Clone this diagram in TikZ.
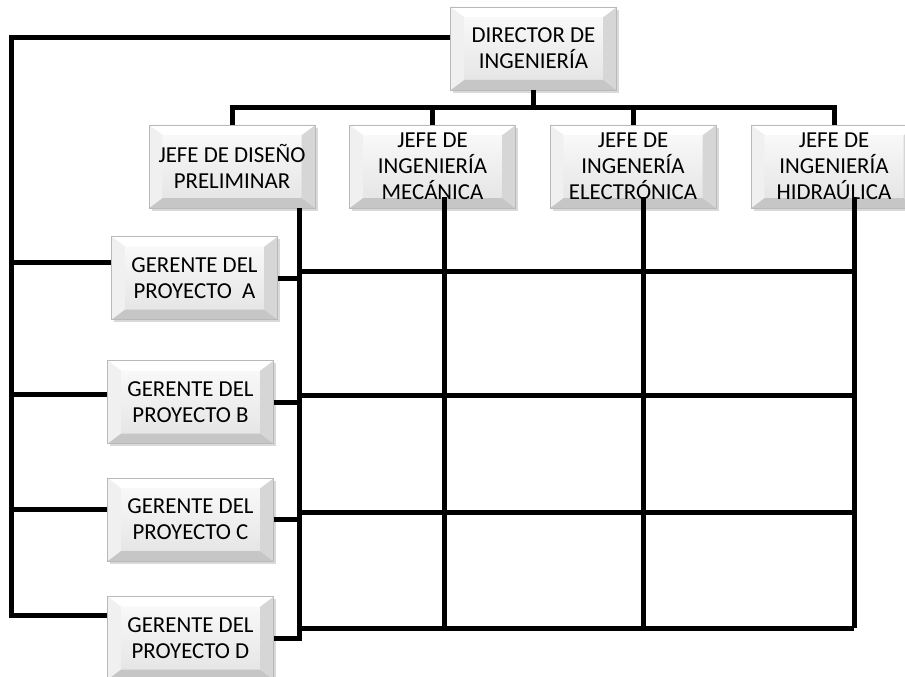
\documentclass[tikz,border=0pt]{standalone}
\usepackage{fontspec}
\setmainfont{Carlito}
\usetikzlibrary{shadows}
\tikzset{cargo/.style={draw=gray!55, top color=gray!3, bottom color=gray!22,
           minimum width=49.8mm, minimum height=24.9mm, inner sep=0pt, align=center,
           font=\fontsize{19.5}{22.4}\selectfont,
           drop shadow={shadow xshift=0.8mm, shadow yshift=-0.8mm, opacity=0.3, fill=gray},
           path picture={
             \coordinate(bsw)at(path picture bounding box.south west);
             \coordinate(bne)at(path picture bounding box.north east);
             \coordinate(bse)at(bsw-|bne);
             \coordinate(bnw)at(bne-|bsw);
             \coordinate(isw)at([shift={(4mm,3mm)}]bsw);
             \coordinate(ise)at([shift={(-4mm,3mm)}]bse);
             \coordinate(ine)at([shift={(-4mm,-3mm)}]bne);
             \coordinate(inw)at([shift={(4mm,-3mm)}]bnw);
             \fill[gray!45](bsw)--(bse)--(ise)--(isw)--cycle;
             \fill[gray!32](bse)--(bne)--(ine)--(ise)--cycle;
             \fill[white](bne)--(bnw)--(inw)--(ine)--cycle;
             \fill[gray!12](bnw)--(bsw)--(isw)--(inw)--cycle;
           }},
         enlace/.style={line width=1.5mm},
        }
\begin{document}
\begin{tikzpicture}[x=0.3mm,y=-0.3mm]
        \useasboundingbox(0,0)rectangle(905,677);
        \node[cargo](dir)at(533.5,48.5){DIRECTOR DE\\INGENIERÍA};
        \node[cargo](jdis)at(232,166.5){JEFE DE DISEÑO\\PRELIMINAR};
        \node[cargo](jmec)at(432.5,166.5){JEFE DE\\INGENIERÍA\\MECÁNICA};
        \node[cargo](jele)at(633,166.5){JEFE DE\\INGENERÍA\\ELECTRÓNICA};
        \node[cargo](jhid)at(834,166.5){JEFE DE\\INGENIERÍA\\HIDRAÚLICA};
        \node[cargo](ga)at(194.5,278){GERENTE DEL\\PROYECTO\ \ A};
        \node[cargo](gb)at(190.5,402){GERENTE DEL\\PROYECTO B};
        \node[cargo](gc)at(190.5,519.5){GERENTE DEL\\PROYECTO C};
        \node[cargo](gd)at(190.5,638){GERENTE DEL\\PROYECTO D};

        \coordinate(bar)at(0,107.5);
        \coordinate(lomo)at(11,38);
        \coordinate(lomob)at(11,615);
        \coordinate(cdis)at(299,638);
        \coordinate(cmec)at(444,197);
        \coordinate(cele)at(643,197);
        \coordinate(chid)at(854,197);

        \draw[enlace](dir.south)--(dir.south|-bar);
        \draw[enlace](jdis.north)--(jdis.north|-bar)--(jhid.north|-bar)--(jhid.north);
        \foreach \j in {jmec,jele}
          \draw[enlace](\j.north)--(\j.north|-bar);

        \draw[enlace](lomo-|dir.west)--(lomo)--(lomob)--(lomob-|gd.west);
        \foreach \g/\y in {ga/262,gb/394,gc/509}
          \draw[enlace](lomo|-0,\y)--(\g.west|-0,\y);

        \draw[enlace](jdis.south-|cdis)--(cdis)--(gd.east);
        \foreach \g in {ga,gb,gc}
          \draw[enlace](\g.east)--(\g.east-|cdis);
        \foreach \c in {cmec,cele,chid}
          \draw[enlace](\c)--(\c|-0,628);
        \foreach \y in {271,395,512,628}
          \draw[enlace](cdis|-0,\y)--(chid|-0,\y);
\end{tikzpicture}
\end{document}
